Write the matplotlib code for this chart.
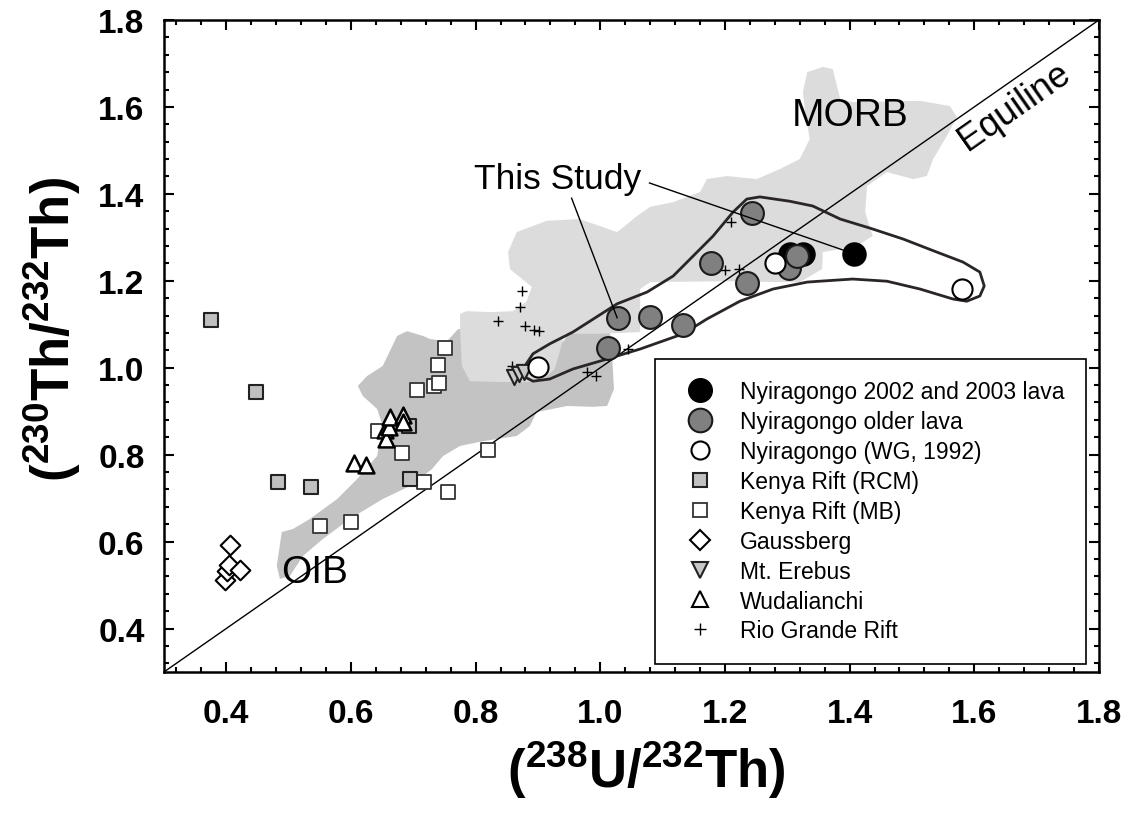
import matplotlib
matplotlib.use('Agg')
import matplotlib.pyplot as plt
from matplotlib.lines import Line2D
from matplotlib.ticker import MultipleLocator

plt.rcParams['font.family'] = ['Liberation Sans', 'DejaVu Sans']
plt.rcParams['mathtext.fontset'] = 'custom'
plt.rcParams['mathtext.rm'] = 'Liberation Sans'
plt.rcParams['mathtext.bf'] = 'Liberation Sans:bold'

# data: (238U/232Th) vs (230Th/232Th)
nyi_new_x = [1.304, 1.326, 1.407]
nyi_new_y = [1.262, 1.262, 1.262]
nyi_old_x = [1.013, 1.029, 1.080, 1.132, 1.178, 1.236, 1.244, 1.302, 1.315]
nyi_old_y = [1.045, 1.114, 1.116, 1.098, 1.240, 1.194, 1.356, 1.229, 1.258]
wg_x = [0.900, 1.280, 1.580]
wg_y = [1.001, 1.241, 1.181]
rcm_x = [0.375, 0.447, 0.483, 0.536, 0.693, 0.695]
rcm_y = [1.109, 0.944, 0.738, 0.725, 0.865, 0.743]
mb_x = [0.550, 0.600, 0.643, 0.682, 0.706, 0.717, 0.733, 0.739, 0.741, 0.751, 0.756, 0.820]
mb_y = [0.635, 0.646, 0.854, 0.803, 0.949, 0.736, 0.958, 1.006, 0.965, 1.045, 0.714, 0.811]
gauss_x = [0.398, 0.401, 0.404, 0.406, 0.422]
gauss_y = [0.512, 0.533, 0.545, 0.593, 0.535]
erebus_x = [0.862, 0.870, 0.878]
erebus_y = [0.978, 0.986, 0.989]
wuda_x = [0.605, 0.624, 0.655, 0.656, 0.661, 0.663, 0.683, 0.684]
wuda_y = [0.780, 0.777, 0.857, 0.836, 0.863, 0.886, 0.892, 0.875]
rio_x = [0.836, 0.858, 0.872, 0.875, 0.879, 0.893, 0.901, 0.978, 0.993, 1.045, 1.200, 1.209, 1.223]
rio_y = [1.107, 1.005, 1.139, 1.177, 1.097, 1.087, 1.085, 0.991, 0.980, 1.043, 1.224, 1.336, 1.227]

# fields
morb_x = [0.852, 0.866, 0.914, 0.967, 1.027, 1.059, 1.080, 1.117, 1.160, 1.171, 1.203, 1.251,
          1.288, 1.320, 1.336, 1.328, 1.325, 1.332, 1.357, 1.373, 1.385, 1.405, 1.513, 1.561,
          1.572, 1.556, 1.534, 1.524, 1.502, 1.460, 1.428, 1.425, 1.437, 1.417, 1.385, 1.357,
          1.356, 1.320, 1.277, 1.203, 1.080, 1.064, 1.064, 1.000, 0.943, 0.927, 0.903, 0.839,
          0.791, 0.778, 0.775, 0.775, 0.785, 0.823, 0.860, 0.882, 0.890, 0.855]
morb_y = [1.266, 1.312, 1.338, 1.342, 1.312, 1.349, 1.370, 1.381, 1.404, 1.434, 1.441, 1.434,
          1.457, 1.480, 1.526, 1.595, 1.634, 1.680, 1.692, 1.687, 1.618, 1.611, 1.614, 1.602,
          1.577, 1.533, 1.480, 1.441, 1.434, 1.450, 1.418, 1.358, 1.303, 1.285, 1.273, 1.266,
          1.227, 1.197, 1.197, 1.199, 1.197, 1.181, 1.082, 1.078, 1.078, 0.997, 0.967, 0.967,
          0.969, 1.004, 1.089, 1.124, 1.130, 1.128, 1.130, 1.153, 1.186, 1.227]
oib_x = [0.486, 0.481, 0.489, 0.507, 0.534, 0.578, 0.610, 0.642, 0.647, 0.651, 0.642, 0.619,
         0.611, 0.626, 0.651, 0.674, 0.690, 0.716, 0.727, 0.754, 0.772, 0.791, 0.839, 0.903,
         0.940, 0.951, 0.972, 1.004, 1.016, 1.019, 1.022, 1.011, 0.988, 0.947, 0.898, 0.887,
         0.866, 0.812, 0.775, 0.748, 0.730, 0.695, 0.651, 0.598, 0.555, 0.523, 0.502]
oib_y = [0.514, 0.544, 0.622, 0.629, 0.652, 0.698, 0.744, 0.797, 0.836, 0.866, 0.905, 0.935,
         0.958, 0.981, 1.004, 1.073, 1.084, 1.073, 1.066, 1.061, 1.089, 1.089, 1.089, 1.094,
         1.059, 1.082, 1.094, 1.096, 1.078, 1.027, 0.951, 0.912, 0.910, 0.912, 0.898, 0.866,
         0.843, 0.831, 0.820, 0.797, 0.767, 0.728, 0.698, 0.652, 0.606, 0.567, 0.521]

# "This Study" envelope
env_x = [0.876, 0.879, 0.892, 0.919, 0.956, 1.027, 1.075, 1.117, 1.149, 1.181, 1.213, 1.235,
         1.256, 1.304, 1.341, 1.385, 1.433, 1.486, 1.540, 1.582, 1.609, 1.616, 1.609, 1.588,
         1.566, 1.513, 1.460, 1.405, 1.352, 1.332, 1.277, 1.224, 1.171, 1.133, 1.064, 1.011,
         0.956, 0.919, 0.892, 0.876]
env_y = [0.981, 1.004, 1.032, 1.055, 1.082, 1.147, 1.174, 1.211, 1.257, 1.303, 1.358, 1.388,
         1.393, 1.383, 1.372, 1.342, 1.321, 1.296, 1.266, 1.243, 1.220, 1.188, 1.165, 1.153,
         1.158, 1.181, 1.199, 1.204, 1.199, 1.197, 1.181, 1.153, 1.112, 1.078, 1.043, 1.020,
         0.997, 0.974, 0.969, 0.981]

fig = plt.figure(figsize=(11.3, 8.2), dpi=100)
ax = fig.add_axes([0.1451, 0.1793, 0.8274, 0.7951])

ax.fill(oib_x, oib_y, color='#c3c3c3', lw=0, zorder=1)
ax.fill(morb_x, morb_y, color='#dcdcdc', lw=0, zorder=1.1)
ax.plot([0.3, 1.8], [0.3, 1.8], color='black', lw=1.0, zorder=2)
ax.plot(env_x, env_y, color='#2b2626', lw=2.0, zorder=3, solid_joinstyle='round')

ax.scatter(rio_x, rio_y, marker='+', s=55, c='black', linewidths=1.0, zorder=4)
ax.scatter(mb_x, mb_y, marker='s', s=100, facecolor='white', edgecolor='#333333', linewidths=1.3, zorder=4)
ax.scatter(rcm_x, rcm_y, marker='s', s=100, facecolor='#c0c0c0', edgecolor='#222222', linewidths=1.5, zorder=4)
ax.scatter(gauss_x, gauss_y, marker='D', s=100, facecolor='white', edgecolor='black', linewidths=1.5, zorder=4)
ax.scatter(wuda_x, wuda_y, marker='^', s=130, facecolor='white', edgecolor='black', linewidths=1.8, zorder=4)
ax.scatter(erebus_x, erebus_y, marker='v', s=120, facecolor='#c8c8c8', edgecolor='#222222', linewidths=1.5, zorder=4)
ax.scatter(nyi_new_x, nyi_new_y, marker='o', s=270, facecolor='black', edgecolor='black', linewidths=1.2, zorder=4.2)
ax.scatter(nyi_old_x, nyi_old_y, marker='o', s=270, facecolor='#808080', edgecolor='#1a1a1a', linewidths=1.5, zorder=4.3)
ax.scatter(wg_x, wg_y, marker='o', s=210, facecolor='white', edgecolor='black', linewidths=1.5, zorder=4.4)

# labels on the plot
ax.text(1.401, 1.581, 'MORB', fontsize=28, ha='center', va='center', zorder=6)
ax.text(0.541, 0.530, 'OIB', fontsize=28, ha='center', va='center', zorder=6)
ax.text(1.665, 1.602, 'Equiline', fontsize=26, ha='center', va='center', rotation=35,
        rotation_mode='anchor', zorder=6)
ax.text(0.932, 1.436, 'This Study', fontsize=25.5, ha='center', va='center', zorder=6)
ax.plot([0.954, 1.027], [1.390, 1.115], color='black', lw=1.0, zorder=5)
ax.plot([1.079, 1.395], [1.425, 1.268], color='black', lw=1.0, zorder=5)

ax.set_xlim(0.3, 1.8)
ax.set_ylim(0.3, 1.8)
ax.xaxis.set_minor_locator(MultipleLocator(0.04))
ax.yaxis.set_minor_locator(MultipleLocator(0.04))
ax.set_xticks([0.4, 0.6, 0.8, 1.0, 1.2, 1.4, 1.6, 1.8])
ax.set_yticks([0.4, 0.6, 0.8, 1.0, 1.2, 1.4, 1.6, 1.8])
ax.tick_params(which='both', direction='in', top=True, right=True, width=1.5)
ax.tick_params(which='major', length=7.5)
ax.tick_params(which='minor', length=3.8)
ax.tick_params(axis='x', which='major', pad=19)
ax.tick_params(axis='y', which='major', pad=14)
for lab in ax.get_xticklabels() + ax.get_yticklabels():
    lab.set_fontsize(24)
    lab.set_fontweight('bold')
for sp in ax.spines.values():
    sp.set_linewidth(1.8)

fig.text(646 / 1130, 1 - 770 / 820, r'$\mathbf{(^{238}U/^{232}Th)}$', fontsize=38,
         ha='center', va='center')
fig.text(52 / 1130, 1 - 330 / 820, r'$\mathbf{(^{230}Th/^{232}Th)}$', fontsize=38,
         ha='center', va='center', rotation=90)

handles = [
    Line2D([], [], ls='none', marker='o', ms=17, mfc='black', mec='black'),
    Line2D([], [], ls='none', marker='o', ms=17, mfc='#808080', mec='#1a1a1a', mew=1.5),
    Line2D([], [], ls='none', marker='o', ms=13, mfc='white', mec='black', mew=1.5),
    Line2D([], [], ls='none', marker='s', ms=10, mfc='#c0c0c0', mec='#222222', mew=1.5),
    Line2D([], [], ls='none', marker='s', ms=10, mfc='white', mec='#333333', mew=1.3),
    Line2D([], [], ls='none', marker='D', ms=10, mfc='white', mec='black', mew=1.5),
    Line2D([], [], ls='none', marker='v', ms=11, mfc='#c8c8c8', mec='#222222', mew=1.5),
    Line2D([], [], ls='none', marker='^', ms=11, mfc='white', mec='black', mew=1.5),
    Line2D([], [], ls='none', marker='+', ms=8, mec='black', mew=1.0),
]
labels = ['Nyiragongo 2002 and 2003 lava', 'Nyiragongo older lava', 'Nyiragongo (WG, 1992)',
          'Kenya Rift (RCM)', 'Kenya Rift (MB)', 'Gaussberg', 'Mt. Erebus', 'Wudalianchi',
          'Rio Grande Rift']
leg = ax.legend(handles, labels, loc='lower left', bbox_to_anchor=(0.525, 0.012),
                fontsize=16.5, frameon=True, fancybox=False, framealpha=1,
                edgecolor='black', borderpad=0.95, labelspacing=0.3,
                handlelength=2.0, handletextpad=0.75, borderaxespad=0)
leg.get_frame().set_linewidth(1.2)
leg.set_zorder(7)

fig.savefig('out.png', dpi=100)
